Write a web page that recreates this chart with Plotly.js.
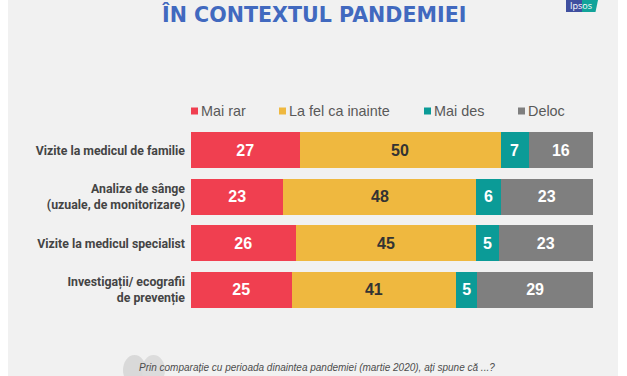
<!DOCTYPE html>
<html><head><meta charset="utf-8">
<script src="https://cdn.plot.ly/plotly-3.0.1.min.js"></script>
<style>html,body{margin:0;padding:0;background:#fff}#c{width:627px;height:376px}</style>
</head><body><div id="c"></div>
<script>
const categories = ["Vizite la medicul de familie","Analize de sânge<br>(uzuale, de monitorizare)","Vizite la medicul specialist","Investigații/ ecografii<br>de prevenție"];
const maiRar = [27,23,26,25];
const laFel = [50,48,45,41];
const maiDes = [7,6,5.5,5.2];
const deloc = [16,23,23.5,28.8];
const maiRarLabels = ["27","23","26","25"];
const laFelLabels = ["50","48","45","41"];
const maiDesLabels = ["7","6","5","5"];
const delocLabels = ["16","23","23","29"];
const seriesNames = ["Mai rar","La fel ca inainte","Mai des","Deloc"];
const seriesColors = ["#f03f50","#efb83f","#0b9b97","#7f7f7f"];
const textColors = ["#ffffff","#333333","#ffffff","#ffffff"];
const titleText = "<b>ÎN CONTEXTUL PANDEMIEI</b>";
const questionText = "Prin comparație cu perioada dinaintea pandemiei (martie 2020), ați spune că ...?";
const legendX = [191,279,424,518];

const W=627,H=376;
const px=x=>x/W, py=y=>1-y/H;
const labels=[maiRarLabels,laFelLabels,maiDesLabels,delocLabels];
const traces=[maiRar,laFel,maiDes,deloc].map((v,i)=>({
  type:"bar",orientation:"h",name:seriesNames[i],y:categories,x:v,
  marker:{color:seriesColors[i],line:{width:0}},
  text:labels[i],textposition:"inside",insidetextanchor:"middle",textangle:0,
  constraintext:"none",
  insidetextfont:{family:"Liberation Sans",size:16,color:textColors[i],weight:700},
  hoverinfo:"x+name"
}));
const shapes=[
 {type:"rect",xref:"paper",yref:"paper",x0:px(8),x1:px(618),y0:0,y1:1,fillcolor:"#f1f1f1",line:{width:0},layer:"below"},
 {type:"circle",xref:"paper",yref:"paper",x0:px(123),x1:px(146),y0:py(385),y1:py(355),fillcolor:"#d9d9d9",line:{width:0},layer:"below"},
 {type:"circle",xref:"paper",yref:"paper",x0:px(142),x1:px(165),y0:py(385),y1:py(355),fillcolor:"#dcdcdc",line:{width:0},layer:"below"},
 {type:"rect",xref:"paper",yref:"paper",x0:px(566),x1:px(582),y0:py(12),y1:1,fillcolor:"#3f4f9f",line:{width:0},layer:"below"},
 {type:"path",xref:"paper",yref:"paper",path:`M ${px(582)} 1 L ${px(598)} 1 L ${px(595.5)} ${py(12)} L ${px(582)} ${py(12)} Z`,fillcolor:"#12a39a",line:{width:0},layer:"below"}
];
legendX.forEach((x,i)=>shapes.push({type:"rect",xref:"paper",yref:"paper",x0:px(x),x1:px(x+7),y0:py(114.5),y1:py(107.5),fillcolor:seriesColors[i],line:{width:0}}));
const ann=[
 {text:titleText,xref:"paper",yref:"paper",x:px(314),y:py(14),xanchor:"center",yanchor:"middle",showarrow:false,font:{family:"DejaVu Sans",size:20.6,color:"#4169bf"}},
 {text:"Ipsos",xref:"paper",yref:"paper",x:px(581),y:py(6),xanchor:"center",yanchor:"middle",showarrow:false,font:{family:"Open Sans",size:9,color:"#ffffff"}},
 {text:"<i>"+questionText+"</i>",xref:"paper",yref:"paper",x:px(316.5),y:py(367),xanchor:"center",yanchor:"middle",showarrow:false,font:{family:"Liberation Sans",size:10,color:"#4d4d4d"}}
];
legendX.forEach((x,i)=>ann.push({text:seriesNames[i],xref:"paper",yref:"paper",x:px(x+10),y:py(111),xanchor:"left",yanchor:"middle",showarrow:false,xshift:-2,font:{family:"Liberation Sans",size:14.4,color:"#595959"}}));
Plotly.newPlot("c",traces,{
 width:W,height:H,barmode:"stack",bargap:0.226,showlegend:false,
 paper_bgcolor:"#ffffff",plot_bgcolor:"rgba(0,0,0,0)",
 margin:{l:0,r:0,t:0,b:0},
 xaxis:{domain:[px(191),px(593)],range:[0,100],visible:false},
 yaxis:{domain:[py(313),py(127)],autorange:"reversed",showgrid:false,zeroline:false,showline:false,ticks:"",ticklen:0,
   ticklabelstandoff:5,tickfont:{family:"Roboto",size:12.3,color:"#444444",weight:700},anchor:"x",automargin:false},
 shapes:shapes,annotations:ann
},{displayModeBar:false});
</script></body></html>
